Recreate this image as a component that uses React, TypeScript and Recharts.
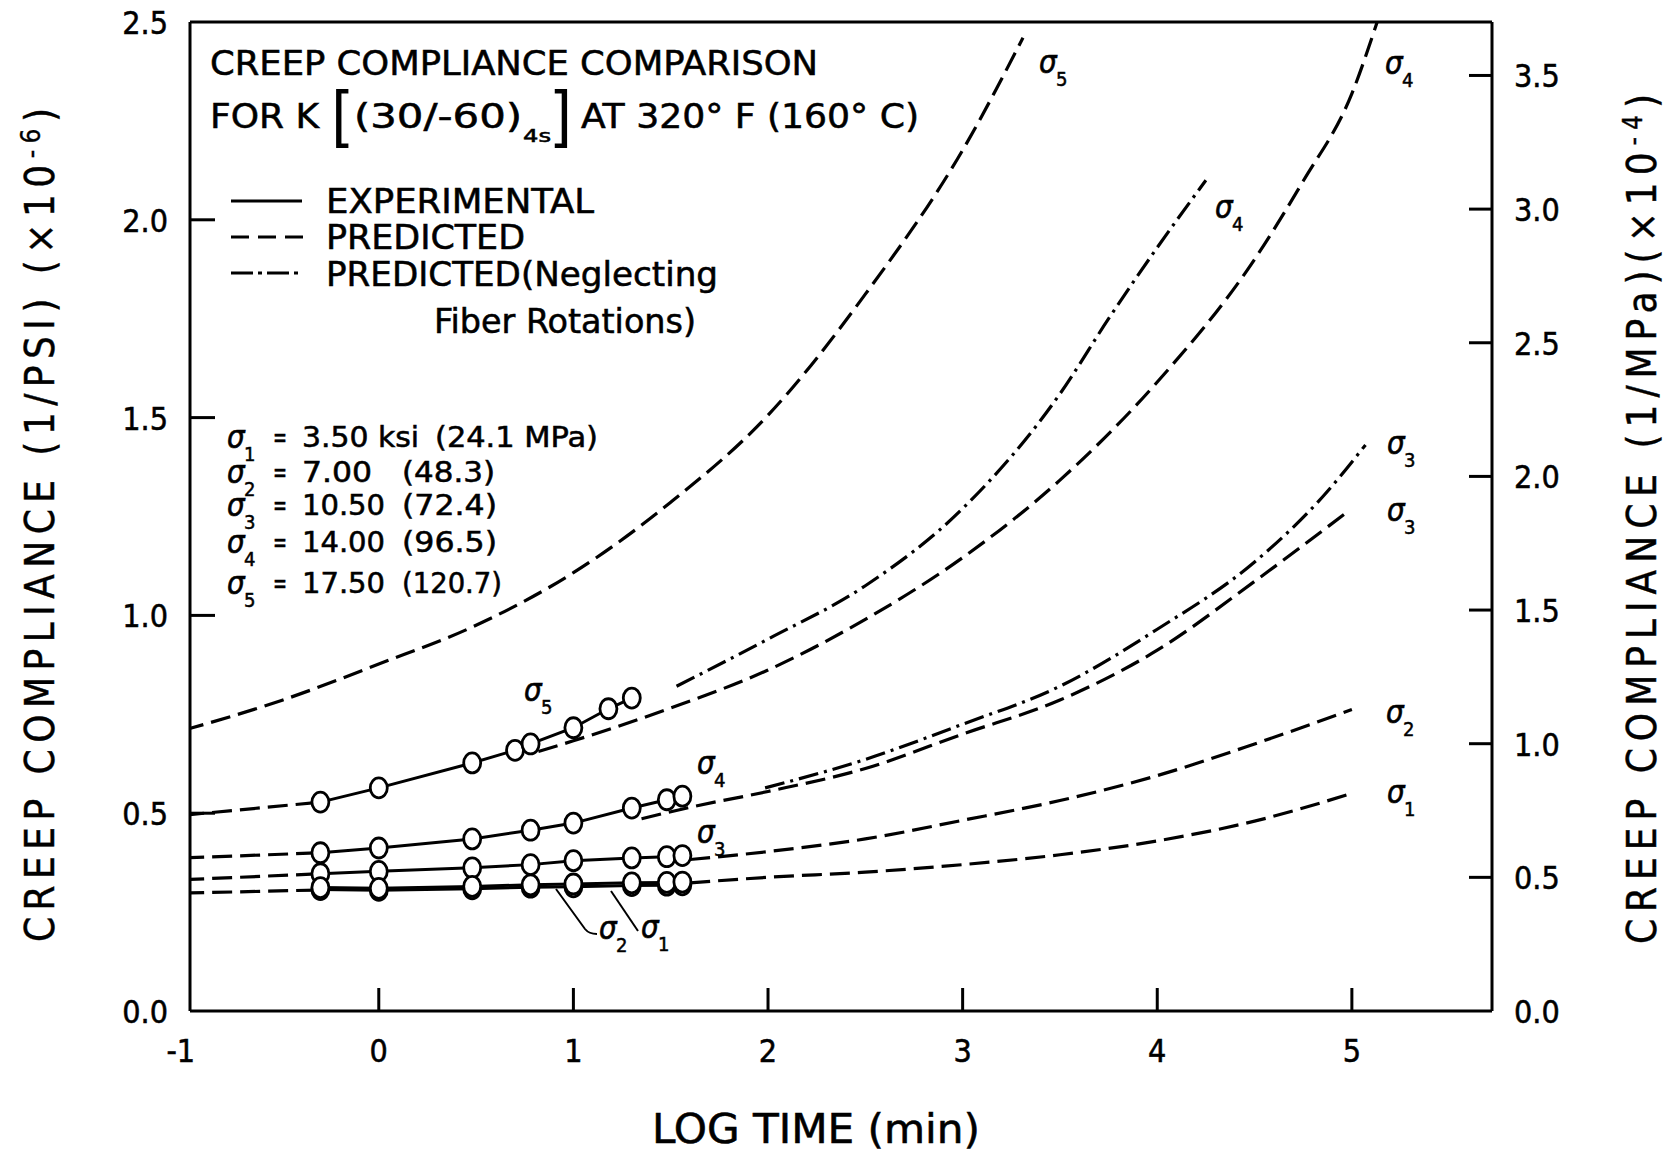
import React from 'react'
import { ComposedChart, Line, XAxis, YAxis, ReferenceLine } from 'recharts'

const W = 1672
const H = 1153
const LEFT = 190
const RIGHT = 1492
const TOP = 22
const BOTTOM = 1011
const FONT = "'DejaVu Sans Condensed', 'DejaVu Sans', sans-serif"

const X_TICKS = [-1, 0, 1, 2, 3, 4, 5]
const PSI_TICKS = [0, 0.5, 1.0, 1.5, 2.0, 2.5]
const MPA_TICKS = [0, 0.5, 1.0, 1.5, 2.0, 2.5, 3.0, 3.5]

// experimental points, log time (min) vs compliance (1/psi x 1e-6)
const EXP_T5 = [-0.3, 0, 0.48, 0.7, 0.78, 1.0, 1.18, 1.3]
const EXP_T = [-0.3, 0, 0.48, 0.78, 1.0, 1.3, 1.48, 1.56]
const EXP_S5 = [0.528, 0.564, 0.627, 0.659, 0.675, 0.716, 0.764, 0.791]
const EXP_S4 = [0.4, 0.412, 0.435, 0.457, 0.475, 0.513, 0.534, 0.543]
const EXP_S3 = [0.347, 0.353, 0.362, 0.37, 0.38, 0.387, 0.39, 0.393]
const EXP_S2 = [0.312, 0.31, 0.315, 0.319, 0.321, 0.324, 0.325, 0.326]
const EXP_S1 = [0.307, 0.305, 0.309, 0.313, 0.314, 0.317, 0.318, 0.319]

// predicted lead-in before the first test point
const STUB_T = [-1, -0.3]
const STUB_S5 = [0.495, 0.528]
const STUB_S4 = [0.387, 0.4]
const STUB_S3 = [0.332, 0.347]
const STUB_S1 = [0.298, 0.306]

// predicted curves
const PRED_TOP_T = [-1, -0.5, 0, 0.5, 1.0, 1.5, 2.0, 2.5, 3.0, 3.31]
const PRED_TOP = [0.71, 0.785, 0.877, 0.975, 1.108, 1.286, 1.506, 1.812, 2.176, 2.46]

const PRED_A_T = [0.82, 1.0, 1.5, 2.0, 2.5, 3.0, 3.5, 4.0, 4.5, 4.75, 5.0, 5.13]
const PRED_A = [0.656, 0.683, 0.766, 0.862, 0.99, 1.146, 1.342, 1.59, 1.9, 2.098, 2.319, 2.5]

const PRED_B_T = [1.35, 1.6, 2.0, 2.5, 3.0, 3.5, 4.0, 4.5, 4.97]
const PRED_B = [0.486, 0.515, 0.555, 0.613, 0.7, 0.786, 0.912, 1.086, 1.259]

const PRED_CD_T = [1.6, 2.0, 2.5, 3.0, 3.5, 4.0, 4.5, 5.0]
const PRED_C = [0.383, 0.403, 0.435, 0.482, 0.532, 0.595, 0.675, 0.762]
const PRED_D = [0.324, 0.338, 0.351, 0.37, 0.395, 0.43, 0.48, 0.55]

// predicted, neglecting fiber rotations
const NFR_A_T = [1.53, 2.0, 2.5, 3.0, 3.5, 3.75, 4.0, 4.25]
const NFR_A = [0.821, 0.94, 1.075, 1.27, 1.56, 1.75, 1.93, 2.1]
const NFR_B_T = [1.985, 2.5, 3.0, 3.5, 4.0, 4.5, 4.85, 5.07]
const NFR_B = [0.564, 0.636, 0.725, 0.821, 0.965, 1.135, 1.3, 1.431]

const STRESS_KSI = ['3.50 ksi', '7.00', '10.50', '14.00', '17.50']
const STRESS_MPA = ['(24.1 MPa)', '(48.3)', '(72.4)', '(96.5)', '(120.7)']

const DASH = '20 8'
const DASH_DOT = '20 6 3 6'

const zip = (xs: number[], ys: number[]) => xs.map((x, i) => ({ x, y: ys[i] }))

const predicted = [
  { id: 'top', data: zip(PRED_TOP_T, PRED_TOP), dash: DASH },
  { id: 'in5', data: zip(STUB_T, STUB_S5), dash: DASH },
  { id: 'in4', data: zip(STUB_T, STUB_S4), dash: DASH },
  { id: 'in3', data: zip(STUB_T, STUB_S3), dash: DASH },
  { id: 'in1', data: zip(STUB_T, STUB_S1), dash: DASH },
  { id: 'a', data: zip(PRED_A_T, PRED_A), dash: DASH },
  { id: 'b', data: zip(PRED_B_T, PRED_B), dash: DASH },
  { id: 'c', data: zip(PRED_CD_T, PRED_C), dash: DASH },
  { id: 'd', data: zip(PRED_CD_T, PRED_D), dash: DASH },
  { id: 'na', data: zip(NFR_A_T, NFR_A), dash: DASH_DOT },
  { id: 'nb', data: zip(NFR_B_T, NFR_B), dash: DASH_DOT },
]

const experimental = [
  zip(EXP_T5, EXP_S5),
  zip(EXP_T, EXP_S4),
  zip(EXP_T, EXP_S3),
  zip(EXP_T, EXP_S1),
  zip(EXP_T, EXP_S2),
]

const Ring = (p: any) => (
  <ellipse key={`r${p.index}`} cx={p.cx} cy={p.cy} rx={8.5} ry={10} fill="#fff" stroke="#000" strokeWidth={2.8} />
)

const XTick = ({ x, payload }: any) => {
  const v = payload.value
  return (
    <g>
      {v > -1 && <line x1={x} y1={BOTTOM} x2={x} y2={BOTTOM - 23} stroke="#000" strokeWidth={3} />}
      <text x={v === -1 ? x + 11 : x} y={1062} textAnchor={v === -1 ? 'end' : 'middle'} fontFamily={FONT} fontSize={32} fill="#000" stroke="#000" strokeWidth={0.5}>
        {v}
      </text>
    </g>
  )
}

const PsiTick = ({ y, payload }: any) => {
  const v = payload.value
  return (
    <g>
      {v > 0 && v < 2.5 && <line x1={LEFT} y1={y} x2={LEFT + 25} y2={y} stroke="#000" strokeWidth={3} />}
      <text x={168} y={y + 12} textAnchor="end" fontFamily={FONT} fontSize={32} fill="#000" stroke="#000" strokeWidth={0.5}>
        {v.toFixed(1)}
      </text>
    </g>
  )
}

const MpaTick = ({ y, payload }: any) => {
  const v = payload.value
  return (
    <g>
      {v > 0 && <line x1={RIGHT - 23} y1={y} x2={RIGHT} y2={y} stroke="#000" strokeWidth={3} />}
      <text x={1514} y={y + 12} textAnchor="start" fontFamily={FONT} fontSize={32} fill="#000" stroke="#000" strokeWidth={0.5}>
        {v.toFixed(1)}
      </text>
    </g>
  )
}

const T = ({ x, y, size = 33, len, anchor = 'start', children, ...rest }: any) => (
  <text
    x={x}
    y={y}
    fontSize={size}
    textLength={len}
    lengthAdjust={len ? 'spacingAndGlyphs' : undefined}
    textAnchor={anchor}
    fontFamily={FONT}
    fill="#000"
    stroke="#000"
    strokeWidth={0.5}
    {...rest}
  >
    {children}
  </text>
)

const Sigma = ({ x, y, n, size = 31 }: any) => (
  <g fontFamily={FONT} fill="#000">
    <text x={x - 1} y={y + 1} fontSize={size} fontStyle="italic" stroke="#000" strokeWidth={0.6}>σ</text>
    <text x={x + 16} y={y + 14} fontSize={20} stroke="#000" strokeWidth={0.5}>{n}</text>
  </g>
)

const LIST_Y = [447, 482, 515, 552, 593]
const KSI_LEN = [117, 70, 83, 83, 83]
const MPA_X = [435, 402, 402, 402, 402]
const MPA_LEN = [163, 93, 95, 95, 100]

const CURVE_LABELS = [
  { x: 525, y: 700, n: '5' },
  { x: 698, y: 773, n: '4' },
  { x: 698, y: 842, n: '3' },
  { x: 600, y: 938, n: '2' },
  { x: 642, y: 937, n: '1' },
  { x: 1040, y: 72, n: '5' },
  { x: 1216, y: 217, n: '4' },
  { x: 1386, y: 73, n: '4' },
  { x: 1388, y: 453, n: '3' },
  { x: 1388, y: 520, n: '3' },
  { x: 1387, y: 722, n: '2' },
  { x: 1388, y: 802, n: '1' },
]

function Overlay() {
  return (
    <svg width={W} height={H} style={{ position: 'absolute', left: 0, top: 0, pointerEvents: 'none' }}>
      <T x={210} y={75} size={34} len={608}>CREEP COMPLIANCE COMPARISON</T>
      <T x={210} y={128} size={34} len={109}>FOR K</T>
      <T x={331} y={139} size={66} fontWeight={200} strokeWidth={0}>[</T>
      <T x={354} y={128} size={34} len={168}>(30/-60)</T>
      <T x={523} y={142} size={18} len={28}>4s</T>
      <T x={549} y={139} size={66} fontWeight={200} strokeWidth={0}>]</T>
      <T x={581} y={128} size={34} len={338}>AT 320° F (160° C)</T>

      <line x1={231} y1={201} x2={302} y2={201} stroke="#000" strokeWidth={3} />
      <line x1={231} y1={237} x2={303} y2={237} stroke="#000" strokeWidth={3} strokeDasharray="18 9" />
      <line x1={231} y1={273} x2={303} y2={273} stroke="#000" strokeWidth={3} strokeDasharray="22 5 4 5" />
      <T x={326} y={213} len={268}>EXPERIMENTAL</T>
      <T x={326} y={249} len={199}>PREDICTED</T>
      <T x={326} y={286} len={392}>PREDICTED(Neglecting</T>
      <T x={434} y={333} len={262}>Fiber Rotations)</T>

      {STRESS_KSI.map((k, i) => (
        <g key={k}>
          <Sigma x={228} y={LIST_Y[i]} n={String(i + 1)} />
          <T x={273} y={LIST_Y[i]} size={28} len={14}>=</T>
          <T x={302} y={LIST_Y[i]} size={28} len={KSI_LEN[i]}>{k}</T>
          <T x={MPA_X[i]} y={LIST_Y[i]} size={28} len={MPA_LEN[i]}>{STRESS_MPA[i]}</T>
        </g>
      ))}

      {CURVE_LABELS.map((l, i) => (
        <Sigma key={i} x={l.x} y={l.y} n={l.n} />
      ))}
      <path d="M556 889 L585 929 Q589 934 597 934" fill="none" stroke="#000" strokeWidth={2} />
      <path d="M611 891 L638 931" fill="none" stroke="#000" strokeWidth={2} />

      <text
        x={54}
        y={525}
        transform="rotate(-90 54 525)"
        textAnchor="middle"
        fontFamily={FONT}
        fontSize={40}
        textLength={834}
        lengthAdjust="spacing"
        fill="#000"
        stroke="#000"
        strokeWidth={0.4}
      >
        CREEP COMPLIANCE (1/PSI) (×10<tspan dy={-14} fontSize={26}>-6</tspan>
        <tspan dy={14}>)</tspan>
      </text>
      <text
        x={1656}
        y={519}
        transform="rotate(-90 1656 519)"
        textAnchor="middle"
        fontFamily={FONT}
        fontSize={40}
        textLength={850}
        lengthAdjust="spacing"
        fill="#000"
        stroke="#000"
        strokeWidth={0.4}
      >
        CREEP COMPLIANCE (1/MPa)(×10<tspan dy={-14} fontSize={26}>-4</tspan>
        <tspan dy={14}>)</tspan>
      </text>
      <T x={816} y={1143} size={40} len={328} anchor="middle">LOG TIME (min)</T>
    </svg>
  )
}

export default function App() {
  return (
    <div style={{ position: 'relative', width: W, height: H, background: '#fff' }}>
      <style>{'body{margin:0}'}</style>
      <ComposedChart width={W} height={H} margin={{ top: TOP, right: 0, bottom: 0, left: 0 }}>
        <XAxis
          type="number"
          dataKey="x"
          domain={[-0.97, 5.72]}
          allowDataOverflow
          ticks={X_TICKS}
          interval={0}
          height={H - BOTTOM}
          tickLine={false}
          tickSize={0}
          tick={XTick}
          axisLine={{ stroke: '#000', strokeWidth: 3 }}
        />
        <YAxis
          yAxisId="left"
          type="number"
          domain={[0, 2.5]}
          allowDataOverflow
          ticks={PSI_TICKS}
          interval={0}
          width={LEFT}
          tickLine={false}
          tickSize={0}
          tick={PsiTick}
          axisLine={{ stroke: '#000', strokeWidth: 3 }}
        />
        <YAxis
          yAxisId="right"
          orientation="right"
          type="number"
          domain={[0, 3.7]}
          allowDataOverflow
          ticks={MPA_TICKS}
          interval={0}
          width={W - RIGHT}
          tickLine={false}
          tickSize={0}
          tick={MpaTick}
          axisLine={{ stroke: '#000', strokeWidth: 3 }}
        />
        <ReferenceLine yAxisId="left" y={2.5} stroke="#000" strokeWidth={3} />
        {predicted.map(s => (
          <Line
            key={s.id}
            yAxisId="left"
            data={s.data}
            dataKey="y"
            type="monotone"
            stroke="#000"
            strokeWidth={3.2}
            strokeDasharray={s.dash}
            dot={false}
            activeDot={false}
            isAnimationActive={false}
          />
        ))}
        {experimental.map((d, i) => (
          <Line
            key={`e${i}`}
            yAxisId="left"
            data={d}
            dataKey="y"
            type="linear"
            stroke="#000"
            strokeWidth={3}
            dot={false}
            activeDot={false}
            isAnimationActive={false}
          />
        ))}
        {experimental.map((d, i) => (
          <Line
            key={`m${i}`}
            yAxisId="left"
            data={d}
            dataKey="y"
            stroke="none"
            dot={Ring}
            activeDot={false}
            isAnimationActive={false}
          />
        ))}
      </ComposedChart>
      <Overlay />
    </div>
  )
}
